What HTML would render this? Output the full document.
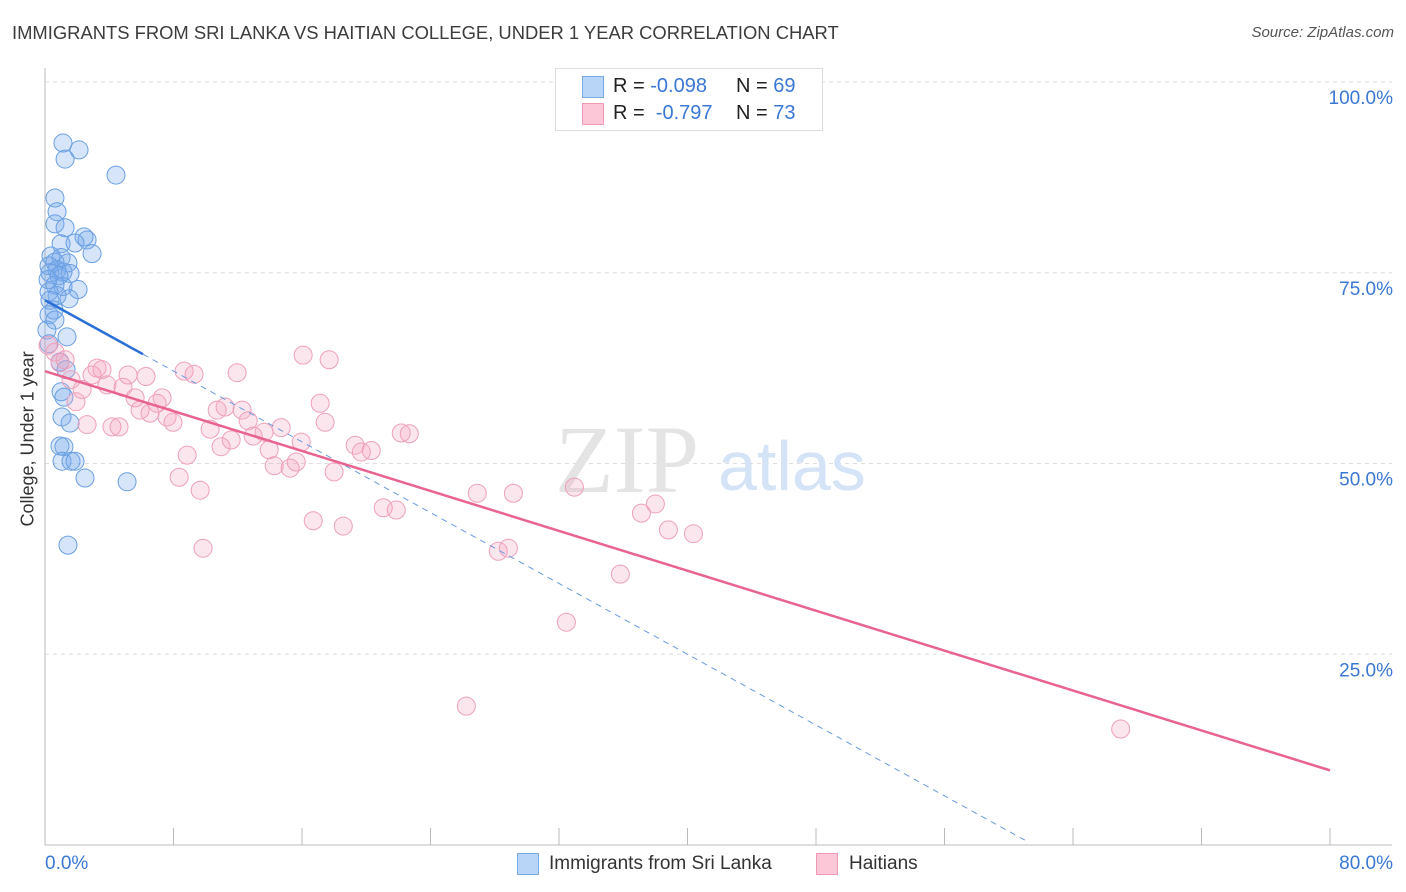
<!DOCTYPE html>
<html><head><meta charset="utf-8"><style>
body{margin:0;background:#fff;font-family:"Liberation Sans",sans-serif;}
#wrap{position:relative;width:1406px;height:892px;overflow:hidden;}
.t{position:absolute;white-space:nowrap;}
</style></head><body>
<div id="wrap">
<div class="t" style="left:12px;top:22px;font-size:18.4px;color:#3c3c3c;">IMMIGRANTS FROM SRI LANKA VS HAITIAN COLLEGE, UNDER 1 YEAR CORRELATION CHART</div>
<div class="t" style="right:12px;top:24px;font-size:15px;color:#555;font-style:italic;">Source: ZipAtlas.com</div>
<svg id="svg" width="1406" height="892" style="position:absolute;left:0;top:0"></svg>
<div class="t" style="left:-42px;top:446px;font-size:18px;color:#333;transform:rotate(-90deg);transform-origin:center;width:140px;text-align:center;">College, Under 1 year</div>
<div style="position:absolute;left:555px;top:68px;width:266px;height:61px;border:1px solid #ddd;background:#fff;font-size:20px;color:#222;">
  <div style="position:absolute;left:26px;top:7px;width:20px;height:20px;background:#b8d4f6;border:1px solid #7aaae6;"></div>
  <div class="t" style="left:57px;top:6px;">R = <span style="color:#3a78d4">-0.098</span></div>
  <div class="t" style="left:180px;top:6px;">N = <span style="color:#3a78d4">69</span></div>
  <div style="position:absolute;left:26px;top:34px;width:20px;height:20px;background:#fcc7d6;border:1px solid #ee9ab5;"></div>
  <div class="t" style="left:57px;top:33px;">R = &nbsp;<span style="color:#3a78d4">-0.797</span></div>
  <div class="t" style="left:180px;top:33px;">N = <span style="color:#3a78d4">73</span></div>
</div>
<div style="position:absolute;left:517px;top:853px;width:20px;height:20px;background:#b8d4f6;border:1px solid #7aaae6;"></div>
<div class="t" style="left:549px;top:853px;font-size:19px;color:#333;">Immigrants from Sri Lanka</div>
<div style="position:absolute;left:816px;top:853px;width:20px;height:20px;background:#fcc7d6;border:1px solid #ee9ab5;"></div>
<div class="t" style="left:849px;top:853px;font-size:19px;color:#333;">Haitians</div>
</div>
<script>
const yTicks=[25,50,75,100];
const yTickLabels=["25.0%","50.0%","75.0%","100.0%"];
const xTickLabels=["0.0%","80.0%"];
const blueX=[1.12,2.12,1.25,4.42,0.62,0.75,0.62,1.25,2.43,2.62,1.0,1.87,2.93,0.37,1.0,0.62,1.43,0.25,0.75,1.12,0.31,1.56,0.87,0.19,0.62,1.12,2.06,0.25,0.75,1.5,0.31,0.56,0.25,0.62,0.12,1.37,0.25,0.93,1.31,1.0,1.18,1.06,1.56,0.93,1.18,1.06,1.62,1.87,2.49,5.11,1.43];
const blueY=[92.0,91.1,89.9,87.8,84.8,83.0,81.4,80.9,79.7,79.3,78.8,78.9,77.5,77.2,77.0,76.4,76.3,75.9,75.4,75.1,75.0,74.9,74.6,74.1,73.4,73.2,72.8,72.5,72.0,71.6,71.4,70.1,69.5,68.8,67.5,66.6,65.7,63.3,62.3,59.4,58.7,56.1,55.3,52.3,52.2,50.3,50.3,50.3,48.1,47.6,39.3];
const pinkX=[16.07,17.69,11.96,8.66,9.28,3.24,3.55,2.93,5.17,6.29,3.86,4.86,2.31,5.61,1.93,7.29,6.98,5.92,6.54,7.60,7.97,17.13,17.44,10.72,11.21,12.27,12.65,10.28,13.64,12.96,14.70,15.95,11.59,10.96,13.96,19.31,19.69,20.31,22.18,22.68,15.64,15.26,14.27,18.0,8.85,8.35,9.66,2.62,4.17,4.61,21.06,21.87,16.70,18.57,9.84,0.93,1.25,0.19,0.62,1.62,26.91,29.16,32.96,37.13,38.0,38.81,40.37,28.22,28.85,35.82,32.46,26.23,66.97];
const pinkY=[64.2,63.6,61.9,62.1,61.7,62.5,62.3,61.6,61.6,61.4,60.3,60.0,59.7,58.6,58.1,58.6,57.9,57.0,56.6,56.1,55.4,57.9,55.4,57.0,57.4,57.0,55.6,54.5,54.1,53.6,54.7,52.8,53.1,52.2,51.8,52.4,51.5,51.7,54.0,53.9,50.2,49.4,49.7,48.9,51.1,48.2,46.5,55.1,54.8,54.8,44.2,43.9,42.5,41.8,38.9,63.2,63.6,65.5,64.6,61.0,46.1,46.1,46.9,43.5,44.7,41.3,40.8,38.5,38.9,35.5,29.2,18.2,15.2];
const blueFit=[71.4,-1.16];
const blueSolidEnd=6.1, blueDashEnd=61.0;
const pinkFit=[62.1,-0.654];
const xs=v=>45+v/80*1285;
const ys=v=>845-v/100*763;
const svg=document.getElementById('svg');
const NS='http://www.w3.org/2000/svg';
function mk(tag,attrs){const e=document.createElementNS(NS,tag);for(const k in attrs)e.setAttribute(k,attrs[k]);svg.appendChild(e);return e;}
yTicks.forEach((t,i)=>{
  const g=mk('line',{x1:45,x2:1392,y1:ys(t),y2:ys(t),stroke:'#ddd','stroke-dasharray':'4,4'});
  
  
  const tx=mk('text',{x:1393,y:ys(t)+22,'text-anchor':'end','font-size':19,fill:'#3a78d4','font-family':'Liberation Sans'});
  tx.textContent=yTickLabels[i];
  
  
});
const ax=mk('line',{x1:45,x2:45,y1:68,y2:845,stroke:'#bbb'});


const bx=mk('line',{x1:45,x2:1392,y1:845,y2:845,stroke:'#bbb'});


for(let i=0;i<=10;i++){
  const tk=mk('line',{x1:xs(i*8),x2:xs(i*8),y1:828,y2:845,stroke:'#bbb'});
  
  
}
[[0,45,'start'],[80,1393,'end']].forEach((p,i)=>{
  const t=mk('text',{x:p[1],y:869,'text-anchor':p[2],'font-size':19,fill:'#3a78d4','font-family':'Liberation Sans'});
  t.textContent=xTickLabels[i];
  
  
});
const w1=mk('text',{x:555,y:492,'font-size':96,fill:'#e4e4e4','font-family':'Liberation Serif'});
w1.textContent='ZIP';


const w2=mk('text',{x:718,y:490,'font-size':70,fill:'#d4e3f6','font-family':'Liberation Sans'});
w2.textContent='atlas';


blueX.forEach((x,i)=>{
  const c=mk('circle',{cx:xs(x),cy:ys(blueY[i]),r:9,fill:'rgba(120,170,235,0.3)',stroke:'#6a9fe2','stroke-width':1});
  
  
});
pinkX.forEach((x,i)=>{
  const c=mk('circle',{cx:xs(x),cy:ys(pinkY[i]),r:9,fill:'rgba(245,165,195,0.28)',stroke:'#eea0ba','stroke-width':1});
  
  
});
const bf=x=>blueFit[0]+blueFit[1]*x, pf=x=>pinkFit[0]+pinkFit[1]*x;
const l1=mk('line',{x1:xs(0),y1:ys(bf(0)),x2:xs(blueSolidEnd),y2:ys(bf(blueSolidEnd)),stroke:'#2a6fd6','stroke-width':2.5});


const l2=mk('line',{x1:xs(blueSolidEnd),y1:ys(bf(blueSolidEnd)),x2:xs(blueDashEnd),y2:ys(bf(blueDashEnd)),stroke:'#6a9be0','stroke-width':1,'stroke-dasharray':'6,5'});


const l3=mk('line',{x1:xs(0),y1:ys(pf(0)),x2:xs(80),y2:ys(pf(80)),stroke:'#e8648f','stroke-width':2.5});


</script>
</body></html>
